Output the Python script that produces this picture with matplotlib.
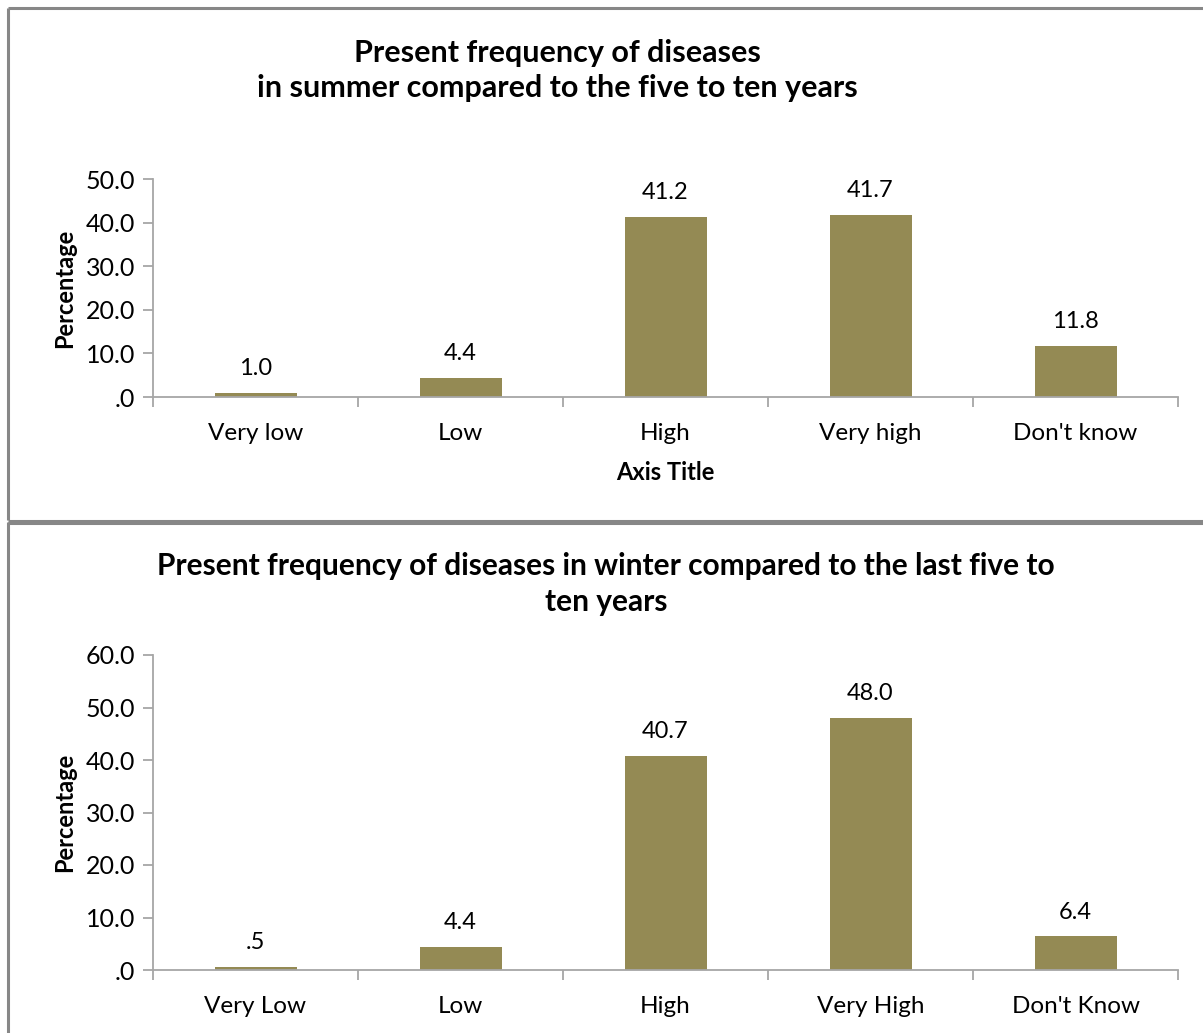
import matplotlib
matplotlib.use("Agg")
import matplotlib.pyplot as plt
from matplotlib.lines import Line2D
import numpy as np

plt.rcParams['font.family'] = ['Lato', 'DejaVu Sans']

summer_categories = ["Very low", "Low", "High", "Very high", "Don't know"]
summer_values = [1.0, 4.4, 41.2, 41.7, 11.8]
summer_labels = ["1.0", "4.4", "41.2", "41.7", "11.8"]
summer_yticks = [0, 10, 20, 30, 40, 50]
summer_yticklabels = [".0", "10.0", "20.0", "30.0", "40.0", "50.0"]

winter_categories = ["Very Low", "Low", "High", "Very High", "Don't Know"]
winter_values = [0.5, 4.4, 40.7, 48.0, 6.4]
winter_labels = [".5", "4.4", "40.7", "48.0", "6.4"]
winter_yticks = [0, 10, 20, 30, 40, 50, 60]
winter_yticklabels = [".0", "10.0", "20.0", "30.0", "40.0", "50.0", "60.0"]

BAR = "#948A54"
SPINE = "#A6A6A6"
FRAME = "#878787"

W, H = 1203, 1033
fig = plt.figure(figsize=(W / 100, H / 100), dpi=100)


def draw_panel(ax, cats, vals, labels, yticks, yticklabels, ymax, xlabel=None):
    x = np.arange(len(cats))
    ax.bar(x, vals, width=0.4, color=BAR, zorder=2)
    ax.set_xlim(-0.5, len(cats) - 0.5)
    ax.set_ylim(0, ymax)
    ax.set_yticks(yticks)
    ax.set_yticklabels(yticklabels, fontsize=18)
    ax.set_xticks(x)
    ax.set_xticklabels(cats, fontsize=17.5)
    ax.set_xticks(np.arange(len(cats) + 1) - 0.5, minor=True)
    ax.tick_params(axis='x', which='major', length=0, pad=19)
    ax.tick_params(axis='x', which='minor', length=7, width=1.3, color=SPINE, direction='out')
    ax.tick_params(axis='y', length=7, width=1.3, color=SPINE, pad=6)
    for s in ("top", "right"):
        ax.spines[s].set_visible(False)
    for s in ("left", "bottom"):
        ax.spines[s].set_color(SPINE)
        ax.spines[s].set_linewidth(1.3)
    for xi, v, lab in zip(x, vals, labels):
        ax.annotate(lab, (xi, v), xytext=(0, 10), textcoords="offset points",
                    ha="center", va="bottom", fontsize=17)
    ax.set_ylabel("Percentage", fontsize=17, fontweight="bold", labelpad=7)
    if xlabel:
        ax.set_xlabel(xlabel, fontsize=17, fontweight="bold", labelpad=12)
    return ax


# top panel: summer
ax1 = fig.add_axes([153 / W, 1 - 397 / H, 1025 / W, 218 / H])
draw_panel(ax1, summer_categories, summer_values, summer_labels,
           summer_yticks, summer_yticklabels, 50, xlabel="Axis Title")
fig.text(557 / W, 1 - 70.5 / H,
         "Present frequency of diseases\nin summer compared to the five to ten years",
         ha="center", va="center", fontsize=22, fontweight="bold", linespacing=1.33)

# bottom panel: winter
ax2 = fig.add_axes([153 / W, 1 - 970 / H, 1025 / W, 315 / H])
draw_panel(ax2, winter_categories, winter_values, winter_labels,
           winter_yticks, winter_yticklabels, 60)
fig.text(606 / W, 1 - 584 / H,
         "Present frequency of diseases in winter compared to the last five to\nten years",
         ha="center", va="center", fontsize=21.5, fontweight="bold", linespacing=1.33)

# chart frames
def fline(xs, ys):
    fig.add_artist(Line2D([v / W for v in xs], [1 - v / H for v in ys],
                          color=FRAME, linewidth=2.2, transform=fig.transFigure,
                          solid_capstyle="butt"))

fline([7.5, 7.5], [7.5, 520])
fline([7.5, W], [7.5, 7.5])
fline([7.5, W], [520.5, 520.5])
fline([7.5, 7.5], [522, H])
fline([7.5, W], [523, 523])

fig.savefig("out.png", dpi=100, facecolor="white")
